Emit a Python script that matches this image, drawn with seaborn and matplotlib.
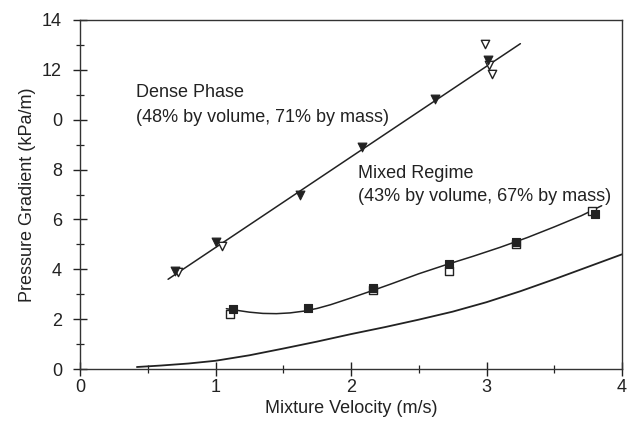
import numpy as np
import pandas as pd
import matplotlib
matplotlib.use("Agg")
import matplotlib.pyplot as plt
import seaborn as sns
from matplotlib.ticker import MultipleLocator

# Dense phase data (filled and open triangles)
dense_x_filled = [0.70, 1.00, 1.62, 2.08, 2.62, 3.01]
dense_y_filled = [3.95, 5.10, 7.00, 8.90, 10.85, 12.40]
dense_x_open = [0.72, 1.05, 2.99, 3.02, 3.04]
dense_y_open = [3.90, 4.95, 13.05, 12.20, 11.85]
dense_fit_x = [0.65, 3.25]
dense_fit_y = [3.60, 13.05]

# Mixed regime data (squares)
mixed_x_filled = [1.13, 1.68, 2.16, 2.72, 3.22, 3.80]
mixed_y_filled = [2.40, 2.45, 3.25, 4.20, 5.10, 6.20]
mixed_x_open = [1.11, 2.16, 2.72, 3.22, 3.78]
mixed_y_open = [2.20, 3.15, 3.95, 5.00, 6.35]
mixed_fit_x = [1.08, 1.15, 1.25, 1.35, 1.45, 1.55, 1.65, 1.75, 1.85, 2.0, 2.15,
               2.3, 2.5, 2.7, 2.9, 3.1, 3.3, 3.5, 3.7, 3.85]
mixed_fit_y = [2.42, 2.36, 2.28, 2.23, 2.22, 2.25, 2.32, 2.43, 2.58, 2.85, 3.13,
               3.42, 3.82, 4.18, 4.52, 4.88, 5.27, 5.70, 6.15, 6.55]

# Lower curve (no markers)
low_x = [0.42, 0.6, 0.8, 1.0, 1.25, 1.5, 1.75, 2.0, 2.25, 2.5, 2.75, 3.0,
         3.25, 3.5, 3.75, 4.0]
low_y = [0.08, 0.14, 0.22, 0.33, 0.55, 0.82, 1.10, 1.40, 1.68, 1.98, 2.30, 2.68,
         3.12, 3.60, 4.10, 4.60]

ytick_vals = [0, 2, 4, 6, 8, 10, 12, 14]
ytick_labels = ["0", "2", "4", "6", "8", "0", "12", "14"]
xtick_vals = [0, 1, 2, 3, 4]

sns.set_style("ticks")
plt.rcParams["font.family"] = ["Liberation Sans", "DejaVu Sans"]

fig = plt.figure(figsize=(6.32, 4.21), dpi=100)
ax = fig.add_axes([80/632, 52/421, 542/632, 349/421])

lc = "#222222"
fs = 13
sns.lineplot(x=dense_fit_x, y=dense_fit_y, ax=ax, color=lc, lw=1.1, sort=False)
sns.lineplot(x=mixed_fit_x, y=mixed_fit_y, ax=ax, color=lc, lw=1.1, sort=False)
sns.lineplot(x=low_x, y=low_y, ax=ax, color=lc, lw=1.3, sort=False)

sns.scatterplot(x=dense_x_open, y=dense_y_open, ax=ax, marker="v", s=36,
                facecolor="white", edgecolor="#222222", linewidth=1.0, zorder=3)
sns.scatterplot(x=dense_x_filled, y=dense_y_filled, ax=ax, marker="v", s=40,
                color="#222222", edgecolor="#222222", linewidth=0.8, zorder=4)
sns.scatterplot(x=mixed_x_open, y=mixed_y_open, ax=ax, marker="s", s=36,
                facecolor="white", edgecolor="#222222", linewidth=1.0, zorder=3)
sns.scatterplot(x=mixed_x_filled, y=mixed_y_filled, ax=ax, marker="s", s=36,
                color="#222222", edgecolor="#222222", linewidth=0.8, zorder=4)

ax.set_xlim(0, 4)
ax.set_ylim(0, 14)
ax.set_xticks(xtick_vals)
ax.set_xticklabels([str(v) for v in xtick_vals])
ax.set_yticks(ytick_vals)
ax.set_yticklabels(ytick_labels)
ax.xaxis.set_minor_locator(MultipleLocator(0.5))
ax.yaxis.set_minor_locator(MultipleLocator(1))
ax.tick_params(axis="both", which="major", direction="inout", length=10, width=1.0,
               labelsize=fs, colors="#222222")
ax.tick_params(axis="x", which="major", pad=2)
ax.tick_params(axis="y", which="major", pad=8)
ax.tick_params(axis="both", which="minor", direction="inout", length=6, width=0.9,
               colors="#222222")
ax.tick_params(top=False, right=False, which="both")
for sp in ax.spines.values():
    sp.set_visible(True)
    sp.set_color("#333333")
    sp.set_linewidth(1.0)

ax.set_xlabel("Mixture Velocity (m/s)", fontsize=fs, color="#222222", labelpad=3)
ax.set_ylabel("Pressure Gradient (kPa/m)", fontsize=fs, color="#222222", labelpad=4)

ax.text(0.41, 11.1, "Dense Phase", fontsize=fs, va="center", ha="left", color="#222222")
ax.text(0.41, 10.1, "(48% by volume, 71% by mass)", fontsize=fs, va="center", ha="left", color="#222222")
ax.text(2.05, 7.85, "Mixed Regime", fontsize=fs, va="center", ha="left", color="#222222")
ax.text(2.05, 6.9, "(43% by volume, 67% by mass)", fontsize=fs, va="center", ha="left", color="#222222")

fig.savefig("out.png", dpi=100)
